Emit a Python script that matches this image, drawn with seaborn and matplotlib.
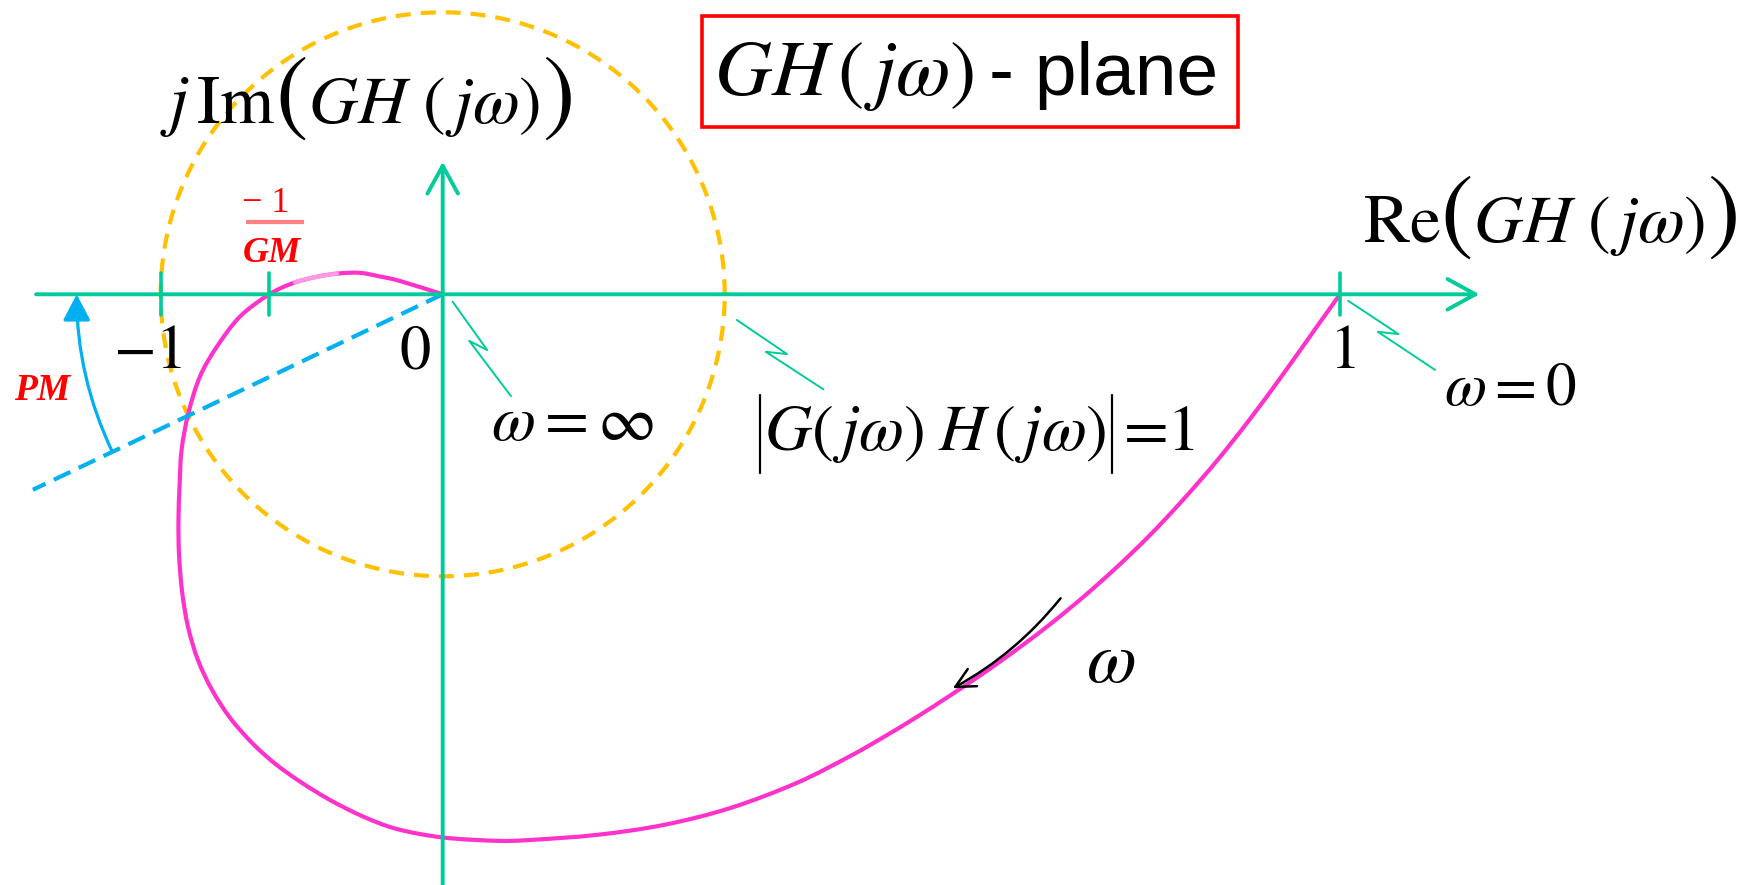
import numpy as np
import pandas as pd
import matplotlib
matplotlib.use("Agg")
import matplotlib.pyplot as plt
from matplotlib.patches import Rectangle, FancyArrowPatch, ArrowStyle, PathPatch
from matplotlib.path import Path
from matplotlib.transforms import IdentityTransform
import seaborn as sns

# Nyquist locus of GH(jw), listed from w = 0 (right end) to w = inf (origin).
# Units: radius of the |GH| = 1 circle.
nyq_re = [3.182, 3.099, 2.981, 2.863, 2.745, 2.626, 2.508, 2.390, 2.272, 2.154,
          2.035, 1.917, 1.799, 1.681, 1.562, 1.444, 1.255, 1.019, 0.782, 0.546,
          0.310, 0.191, -0.001, -0.163, -0.282, -0.400, -0.506, -0.595, -0.676,
          -0.754, -0.818, -0.868, -0.903, -0.924, -0.935, -0.937, -0.933, -0.926,
          -0.902, -0.861, -0.801, -0.719, -0.615, -0.530, -0.447, -0.368, -0.293,
          -0.222, -0.151, 0.0]
nyq_im = [0.000, -0.116, -0.282, -0.442, -0.591, -0.728, -0.854, -0.968, -1.073, -1.170,
          -1.260, -1.344, -1.423, -1.499, -1.571, -1.638, -1.733, -1.822, -1.882, -1.917,
          -1.935, -1.938, -1.926, -1.896, -1.852, -1.793, -1.728, -1.664, -1.591,
          -1.502, -1.403, -1.297, -1.180, -1.056, -0.924, -0.800, -0.676, -0.552,
          -0.422, -0.292, -0.186, -0.079, 0.000, 0.040, 0.062, 0.074, 0.076,
          0.063, 0.047, 0.0]

gm_cross = -0.615   # -1/GM : crossing of the negative real axis
pm_deg = 25.5       # phase margin, measured below the negative real axis
start_re = 3.182    # GH(j0), marked "1"

tick_pos = [-1.0, gm_cross, start_re]
num_labels = ["$-1$", "$0$", "$1$"]
num_pos = [-1.047, -0.098, 3.190]

# colours
TEAL = "#00CC99"
MAGENTA = "#FF33CC"
MAGENTA_LIGHT = "#FF99E3"
ORANGE = "#FFC000"
BLUE = "#00B0F0"
RED = "#FF0000"

sns.set_theme(style="white")
plt.rcParams["mathtext.fontset"] = "stix"
plt.rcParams["font.family"] = ["STIXGeneral", "DejaVu Sans"]
plt.rcParams["text.color"] = "black"

fig = plt.figure(figsize=(17.47, 8.85), dpi=100)
ax = fig.add_axes([0, 0, 1, 1])
ax.set_xlim(-1.5699, 4.6252)
ax.set_ylim(-2.0947, 1.0436)
ax.axis("off")
renderer = fig.canvas.get_renderer()


def bezier_segments(xs, ys):
    """Cubic Bezier pieces (Catmull-Rom tangents) passing through every point."""
    p = np.column_stack([xs, ys])
    ext = np.vstack([p[0], p, p[-1]])
    segs = []
    for i in range(len(p) - 1):
        p0, p1, p2, p3 = ext[i], ext[i + 1], ext[i + 2], ext[i + 3]
        segs.append((p1, p1 + (p2 - p0) / 6.0, p2 - (p3 - p1) / 6.0, p2))
    return segs


def segments_path(segs):
    verts, codes = [segs[0][0]], [Path.MOVETO]
    for s in segs:
        verts += [s[1], s[2], s[3]]
        codes += [Path.CURVE4] * 3
    return Path(verts, codes)


def text_row(x, y, pieces):
    """Set text pieces side by side on one baseline, starting at (x, y) in data units.
    Returns the right end (pixels) of every piece."""
    px, py = ax.transData.transform((x, y))
    ends = []
    for s, fs, pad in pieces:
        px += pad
        t = ax.text(px, py, s, fontsize=fs, ha="left", va="baseline", color="black",
                    transform=IdentityTransform(), zorder=6)
        px += t.get_window_extent(renderer).width
        ends.append(px)
    return ends


# |GH| = 1 circle
theta = np.linspace(0, 2 * np.pi, 721)
circle = pd.DataFrame({"re": np.cos(theta), "im": np.sin(theta)})
sns.lineplot(data=circle, x="re", y="im", sort=False, estimator=None, ax=ax,
             color=ORANGE, lw=3.0, zorder=1)
ax.lines[-1].set_dashes((3.6, 2.4))

# Nyquist locus
segs = bezier_segments(nyq_re, nyq_im)
ax.add_patch(PathPatch(segments_path(segs), fill=False, edgecolor=MAGENTA,
                       lw=3.0, capstyle="round", zorder=2))
hl = [s for s in segs
      if -0.55 <= s[0][0] <= -0.36 and -0.55 <= s[3][0] <= -0.36
      and s[0][1] > 0 and s[3][1] > 0]
ax.add_patch(PathPatch(segments_path(hl), fill=False, edgecolor=MAGENTA_LIGHT,
                       lw=3.1, capstyle="butt", zorder=2.1))

# phase-margin ray through the unit-circle crossing
pm = np.deg2rad(180 + pm_deg)
ray_len = 1.61
ray = pd.DataFrame({"re": [0, ray_len * np.cos(pm)], "im": [0, ray_len * np.sin(pm)]})
sns.lineplot(data=ray, x="re", y="im", sort=False, estimator=None, ax=ax,
             color=BLUE, lw=3.0, zorder=3)
ax.lines[-1].set_dashes((4.4, 2.2))

# phase-margin arc
r_arc = 1.298
tail = (r_arc * np.cos(pm), r_arc * np.sin(pm))
head = (-r_arc, 0.0)
ax.add_patch(FancyArrowPatch(tail, head, connectionstyle="arc3,rad=-0.112",
                             arrowstyle=ArrowStyle("-|>", head_length=0.8, head_width=0.42),
                             mutation_scale=20, color=BLUE, lw=2.3, zorder=3.5,
                             shrinkA=0, shrinkB=0))
bar = 0.018
ax.plot([(r_arc - bar) * np.cos(pm), (r_arc + bar) * np.cos(pm)],
        [(r_arc - bar) * np.sin(pm), (r_arc + bar) * np.sin(pm)],
        color=BLUE, lw=2.3, zorder=3.5)

# axes with arrows
axis_style = ArrowStyle("->", head_length=1.0, head_width=0.55)
ax.add_patch(FancyArrowPatch((-1.442, 0), (3.676, 0), arrowstyle=axis_style,
                             mutation_scale=20, color=TEAL, lw=2.8, zorder=4,
                             shrinkA=0, shrinkB=0))
ax.add_patch(FancyArrowPatch((0, -2.10), (0, 0.470), arrowstyle=axis_style,
                             mutation_scale=20, color=TEAL, lw=2.8, zorder=4,
                             shrinkA=0, shrinkB=0))
for x in tick_pos:
    ax.plot([x, x], [-0.0745, 0.0745], color=TEAL, lw=2.6, zorder=4)

# leader lines
leaders = [
    [(0.035, -0.026), (0.158, -0.198), (0.094, -0.165), (0.242, -0.361)],
    [(1.043, -0.091), (1.221, -0.212), (1.146, -0.204), (1.350, -0.337)],
    [(3.211, -0.023), (3.389, -0.141), (3.316, -0.133), (3.519, -0.268)],
]
for pts in leaders:
    xs, ys = zip(*pts)
    ax.plot(xs, ys, color=TEAL, lw=1.4, zorder=5)

# direction of increasing w
ax.add_patch(FancyArrowPatch((2.191, -1.078), (1.809, -1.397),
                             connectionstyle="arc3,rad=-0.1",
                             arrowstyle=ArrowStyle("->", head_length=0.7, head_width=0.35),
                             mutation_scale=20, color="black", lw=1.8, zorder=5,
                             shrinkA=0, shrinkB=0))

# axis titles with tall outer parentheses
text_row(-1.002, 0.607, [(r"$j\,\mathrm{Im}$", 50, 0), ("(", 70, 0),
                         (r"$GH\ (\,j\omega)$", 49, 0), (")", 70, 2)])
text_row(3.263, 0.187, [(r"$\mathrm{Re}$", 50, 0), ("(", 70, 0),
                        (r"$GH\ (\,j\omega)$", 49, 0), (")", 70, 2)])

# |G(jw)H(jw)| = 1
bar_lo, bar_hi = -0.633, -0.357
ax.plot([1.126, 1.126], [bar_lo, bar_hi], color="black", lw=1.6, zorder=6)
inner_end = text_row(1.140, -0.552, [(r"$G(\,j\omega)\;H\,(\,j\omega)$", 47, 0)])[-1]
right_bar = ax.transData.inverted().transform((inner_end + 5, 0))[0]
ax.plot([right_bar, right_bar], [bar_lo, bar_hi], color="black", lw=1.6, zorder=6)
text_row(right_bar, -0.552, [("=1", 47, 12)])

# numbers and frequency labels
txt = dict(ha="center", va="baseline", color="black", zorder=6)
for lab, x in zip(num_labels, num_pos):
    ax.text(x, -0.262, lab, fontsize=45, **txt)
ax.text(0.459, -0.517, r"$\omega=\infty$", fontsize=46, **txt)
ax.text(3.785, -0.393, r"$\omega=0$", fontsize=44, **txt)
ax.text(2.368, -1.374, r"$\omega$", fontsize=52, **txt)

# plane title in a box
ax.add_patch(Rectangle((0.919, 0.593), 2.820 - 0.919, 0.988 - 0.593, fill=False,
                       edgecolor=RED, lw=2.6, zorder=6))
ax.text(0.962, 0.707, r"$GH\,(\,j\omega)$", fontsize=57, ha="left", va="baseline",
        color="black", zorder=6)
ax.text(2.749, 0.707, "- plane", fontsize=54, ha="right", va="baseline",
        color="black", family=["Liberation Sans", "DejaVu Sans"], zorder=6)

# gain / phase margin annotations
serif_bi = dict(family=["Liberation Serif", "DejaVu Serif"], fontweight="bold",
                fontstyle="italic", color=RED, ha="center", va="baseline", zorder=6)
ax.text(-1.422, -0.375, "PM", fontsize=27, **serif_bi)
ax.text(-0.606, 0.116, "GM", fontsize=26, **serif_bi)
ax.text(-0.627, 0.293, "\u2212 1", fontsize=26, color=RED, ha="center",
        va="baseline", family=["Liberation Serif", "DejaVu Serif"], zorder=6)
ax.plot([-0.697, -0.491], [0.257, 0.257], color="#FF8080", lw=3.0,
        solid_capstyle="butt", zorder=6)

fig.savefig("out.png", dpi=100)
